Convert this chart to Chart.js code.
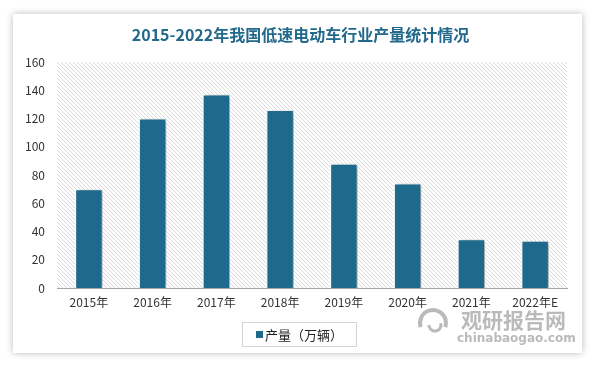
<!DOCTYPE html>
<html>
<head>
<meta charset="utf-8">
<script src="https://cdn.jsdelivr.net/npm/chart.js@4/dist/chart.umd.min.js"></script>
<style>
  html, body { margin: 0; padding: 0; background: #fff; }
  body { width: 597px; height: 369px; position: relative; overflow: hidden; }
  .card {
    position: absolute; left: 13px; top: 14px; width: 569px; height: 339px;
    background: #fff; box-shadow: 0 0 7px rgba(0,0,0,0.28);
  }
  canvas { display: block; }
</style>
</head>
<body>
<div class="card"><canvas id="chart" width="569" height="339"></canvas></div>
<script>
const titleText = "2015-2022年我国低速电动车行业产量统计情况";
const years = ["2015年", "2016年", "2017年", "2018年", "2019年", "2020年", "2021年", "2022年E"];
const output = [70, 120, 137, 126, 88, 74, 34.5, 33.5];
const seriesName = "产量（万辆）";
const yMin = 0, yMax = 160, yStep = 20;

const barColor = "#1d6a8c";
const font = "'Noto Sans CJK SC', 'Noto Sans', sans-serif";

/* ---------- hatch pattern for plot area ---------- */
function makeHatch() {
  const c = document.createElement("canvas");
  c.width = 4; c.height = 4;
  const g = c.getContext("2d");
  g.fillStyle = "#fff";
  g.fillRect(0, 0, 4, 4);
  g.strokeStyle = "#dadada";
  g.lineWidth = 1;
  g.beginPath();
  g.moveTo(-1, -1); g.lineTo(5, 5);
  g.moveTo(-1, 3); g.lineTo(1, 5);
  g.moveTo(3, -1); g.lineTo(5, 1);
  g.stroke();
  return c;
}

const decor = {
  id: "decor",
  beforeDraw(chart) {
    const { ctx, chartArea: a } = chart;
    ctx.save();
    ctx.fillStyle = ctx.createPattern(makeHatch(), "repeat");
    ctx.fillRect(a.left, a.top, a.right - a.left, a.bottom - a.top);
    // title
    ctx.fillStyle = "#22698b";
    ctx.font = "bold 16px " + font;
    ctx.textAlign = "center";
    ctx.textBaseline = "middle";
    ctx.fillText(titleText, chart.width / 2 + 3, 21);
    ctx.restore();
  },
  beforeDatasetsDraw(chart) {
    const ctx = chart.ctx;
    ctx.save();
    ctx.shadowColor = "rgba(0,0,0,0.35)";
    ctx.shadowBlur = 4;
    ctx.shadowOffsetX = 3;
    ctx.shadowOffsetY = 1;
  },
  afterDatasetsDraw(chart) {
    chart.ctx.restore();
  },
  afterDraw(chart) {
    const ctx = chart.ctx;
    ctx.save();
    // watermark
    ctx.fillStyle = "rgba(140,140,140,0.6)";
    ctx.strokeStyle = "rgba(140,140,140,0.6)";
    ctx.font = "bold 21px " + font;
    ctx.textAlign = "left";
    ctx.textBaseline = "middle";
    ctx.fillText("观研报告网", 448, 306);
    ctx.font = "bold 12px 'DejaVu Sans', sans-serif";
    ctx.fillText("chinabaogao.com", 444, 325);
    ctx.lineWidth = 4;
    ctx.beginPath();
    ctx.arc(420, 309, 13, Math.PI * 0.9, Math.PI * 2.1);
    ctx.stroke();
    ctx.lineWidth = 3;
    ctx.beginPath();
    ctx.arc(422, 311, 6, Math.PI * 1.9, Math.PI * 3.0);
    ctx.stroke();
    // legend
    const ds = chart.data.datasets[0];
    const bx = 229, by = 308, bw = 114, bh = 24;
    ctx.strokeStyle = "#d4d4d4";
    ctx.lineWidth = 1;
    ctx.strokeRect(bx + 0.5, by + 0.5, bw, bh);
    ctx.fillStyle = ds.backgroundColor;
    ctx.fillRect(bx + 14, by + 9, 7, 7);
    ctx.fillStyle = "#222";
    ctx.font = "13px " + font;
    ctx.fillText(ds.label, bx + 23, by + 13);
    ctx.restore();
  }
};

new Chart(document.getElementById("chart"), {
  type: "bar",
  data: {
    labels: years,
    datasets: [{
      label: seriesName,
      data: output,
      backgroundColor: barColor,
      borderColor: "#ffffff",
      borderWidth: 1,
      barPercentage: 0.43,
      categoryPercentage: 1
    }]
  },
  options: {
    responsive: false,
    animation: false,
    layout: { padding: { left: 0, right: 15, top: 48, bottom: 35 } },
    plugins: { legend: { display: false }, title: { display: false }, tooltip: { enabled: false } },
    scales: {
      x: {
        grid: { display: false, drawTicks: false },
        border: { display: true, color: "#a6a6a6", width: 1 },
        ticks: { color: "#333", font: { family: font, size: 12 }, padding: 7, maxRotation: 0, autoSkip: false },
        afterFit(s) { s.height = 30; }
      },
      y: {
        min: yMin, max: yMax,
        grid: { display: false, drawTicks: false },
        border: { display: false },
        ticks: { stepSize: yStep, color: "#333", font: { family: font, size: 12 }, padding: 12 },
        afterFit(s) { s.width = 44; }
      }
    }
  },
  plugins: [decor]
});
</script>
</body>
</html>
